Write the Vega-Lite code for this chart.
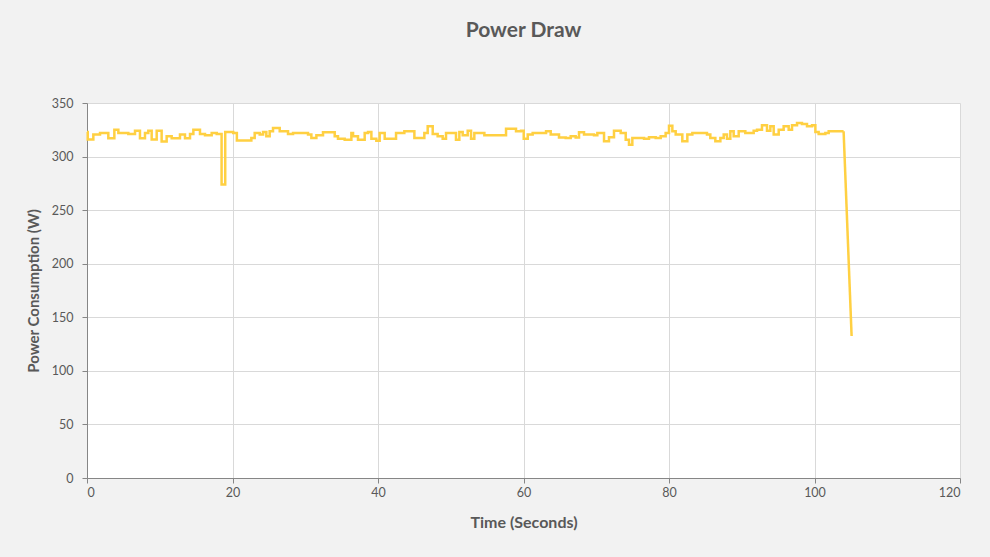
{
  "$schema": "https://vega.github.io/schema/vega-lite/v6.json",
  "width": 873,
  "height": 375,
  "autosize": {"type": "none"},
  "padding": {"left": 87, "top": 103, "right": 30, "bottom": 79},
  "background": "#f2f2f2",
  "title": {
    "text": "Power Draw",
    "font": "Lato",
    "fontSize": 21,
    "fontWeight": "bold",
    "color": "#595959",
    "anchor": "middle",
    "frame": "group",
    "offset": 56
  },
  "config": {
    "view": {"fill": "#ffffff", "stroke": null},
    "axis": {
      "labelFont": "Lato",
      "labelFontSize": 12.5,
      "labelColor": "#595959",
      "titleFont": "Lato",
      "titleFontSize": 15,
      "titleFontWeight": "bold",
      "titleColor": "#595959",
      "gridColor": "#d9d9d9",
      "gridWidth": 1,
      "domainColor": "#868686",
      "tickColor": "#868686",
      "tickSize": 5
    }
  },
  "datasets": {
    "power": [
      {"seg": "step", "t": 0, "v": 323},
      {"seg": "step", "t": 0.1, "v": 316},
      {"seg": "step", "t": 0.87, "v": 320.5},
      {"seg": "step", "t": 1.79, "v": 322},
      {"seg": "step", "t": 2.93, "v": 317},
      {"seg": "step", "t": 3.76, "v": 325},
      {"seg": "step", "t": 4.31, "v": 322},
      {"seg": "step", "t": 5.68, "v": 321},
      {"seg": "step", "t": 6.6, "v": 324},
      {"seg": "step", "t": 7.28, "v": 317},
      {"seg": "step", "t": 7.97, "v": 322},
      {"seg": "step", "t": 8.43, "v": 324},
      {"seg": "step", "t": 8.89, "v": 316},
      {"seg": "step", "t": 9.58, "v": 324},
      {"seg": "step", "t": 10.26, "v": 314},
      {"seg": "step", "t": 10.95, "v": 319},
      {"seg": "step", "t": 11.64, "v": 317},
      {"seg": "step", "t": 12.78, "v": 320.5},
      {"seg": "step", "t": 13.47, "v": 317},
      {"seg": "step", "t": 14.16, "v": 321},
      {"seg": "step", "t": 14.62, "v": 325},
      {"seg": "step", "t": 15.53, "v": 321},
      {"seg": "step", "t": 16.22, "v": 320},
      {"seg": "step", "t": 17.14, "v": 322},
      {"seg": "step", "t": 17.83, "v": 321},
      {"seg": "step", "t": 18.5, "v": 274},
      {"seg": "step", "t": 19.0, "v": 323},
      {"seg": "step", "t": 20.1, "v": 322},
      {"seg": "step", "t": 20.6, "v": 315},
      {"seg": "step", "t": 22.59, "v": 317.3},
      {"seg": "step", "t": 23.05, "v": 322},
      {"seg": "step", "t": 23.74, "v": 320.5},
      {"seg": "step", "t": 24.2, "v": 323},
      {"seg": "step", "t": 24.65, "v": 319},
      {"seg": "step", "t": 25.11, "v": 323.6},
      {"seg": "step", "t": 25.57, "v": 326.7},
      {"seg": "step", "t": 26.49, "v": 323.6},
      {"seg": "step", "t": 27.63, "v": 321},
      {"seg": "step", "t": 28.32, "v": 322},
      {"seg": "step", "t": 30.38, "v": 320.5},
      {"seg": "step", "t": 30.84, "v": 317.3},
      {"seg": "step", "t": 31.53, "v": 320},
      {"seg": "step", "t": 32.44, "v": 322.6},
      {"seg": "step", "t": 34.05, "v": 319},
      {"seg": "step", "t": 34.5, "v": 316.7},
      {"seg": "step", "t": 35.42, "v": 315.8},
      {"seg": "step", "t": 36.34, "v": 322},
      {"seg": "step", "t": 36.57, "v": 319},
      {"seg": "step", "t": 37.25, "v": 315.8},
      {"seg": "step", "t": 38.17, "v": 322},
      {"seg": "step", "t": 38.63, "v": 323},
      {"seg": "step", "t": 39.09, "v": 316.7},
      {"seg": "step", "t": 39.77, "v": 314.8},
      {"seg": "step", "t": 40.23, "v": 322},
      {"seg": "step", "t": 40.92, "v": 316.7},
      {"seg": "step", "t": 42.48, "v": 322},
      {"seg": "step", "t": 43.62, "v": 323.6},
      {"seg": "step", "t": 45.0, "v": 317.3},
      {"seg": "step", "t": 46.37, "v": 322},
      {"seg": "step", "t": 46.83, "v": 328.2},
      {"seg": "step", "t": 47.52, "v": 321},
      {"seg": "step", "t": 48.2, "v": 319},
      {"seg": "step", "t": 48.89, "v": 316.7},
      {"seg": "step", "t": 49.35, "v": 322},
      {"seg": "step", "t": 50.72, "v": 315.8},
      {"seg": "step", "t": 51.18, "v": 323},
      {"seg": "step", "t": 51.64, "v": 320},
      {"seg": "step", "t": 52.33, "v": 324.2},
      {"seg": "step", "t": 52.79, "v": 316.7},
      {"seg": "step", "t": 53.24, "v": 322},
      {"seg": "step", "t": 54.62, "v": 320},
      {"seg": "step", "t": 57.6, "v": 326},
      {"seg": "step", "t": 58.97, "v": 323.6},
      {"seg": "step", "t": 59.66, "v": 324},
      {"seg": "step", "t": 60.03, "v": 316.7},
      {"seg": "step", "t": 60.58, "v": 320.5},
      {"seg": "step", "t": 61.26, "v": 322},
      {"seg": "step", "t": 63.1, "v": 323.6},
      {"seg": "step", "t": 63.74, "v": 320.5},
      {"seg": "step", "t": 64.88, "v": 317.9},
      {"seg": "step", "t": 65.8, "v": 317.3},
      {"seg": "step", "t": 66.49, "v": 319},
      {"seg": "step", "t": 67.17, "v": 317.9},
      {"seg": "step", "t": 67.63, "v": 322.6},
      {"seg": "step", "t": 68.32, "v": 320.5},
      {"seg": "step", "t": 69.69, "v": 320},
      {"seg": "step", "t": 70.15, "v": 322},
      {"seg": "step", "t": 71.07, "v": 314.3},
      {"seg": "step", "t": 71.75, "v": 318},
      {"seg": "step", "t": 72.44, "v": 324.2},
      {"seg": "step", "t": 73.36, "v": 322},
      {"seg": "step", "t": 74.05, "v": 315.8},
      {"seg": "step", "t": 74.5, "v": 311},
      {"seg": "step", "t": 74.96, "v": 317.3},
      {"seg": "step", "t": 76.57, "v": 316.7},
      {"seg": "step", "t": 77.25, "v": 318},
      {"seg": "step", "t": 78.17, "v": 317.3},
      {"seg": "step", "t": 78.86, "v": 319},
      {"seg": "step", "t": 79.54, "v": 322},
      {"seg": "step", "t": 80.0, "v": 328.8},
      {"seg": "step", "t": 80.46, "v": 323.6},
      {"seg": "step", "t": 80.92, "v": 320.5},
      {"seg": "step", "t": 81.83, "v": 314.3},
      {"seg": "step", "t": 82.52, "v": 320.5},
      {"seg": "step", "t": 83.21, "v": 322},
      {"seg": "step", "t": 85.22, "v": 320.5},
      {"seg": "step", "t": 85.68, "v": 317.3},
      {"seg": "step", "t": 86.37, "v": 314.3},
      {"seg": "step", "t": 87.06, "v": 317.3},
      {"seg": "step", "t": 87.52, "v": 320.5},
      {"seg": "step", "t": 87.97, "v": 316.7},
      {"seg": "step", "t": 88.43, "v": 323.6},
      {"seg": "step", "t": 88.89, "v": 319},
      {"seg": "step", "t": 89.58, "v": 323.6},
      {"seg": "step", "t": 90.49, "v": 322},
      {"seg": "step", "t": 91.64, "v": 324.2},
      {"seg": "step", "t": 92.1, "v": 325.1},
      {"seg": "step", "t": 92.78, "v": 329.2},
      {"seg": "step", "t": 93.47, "v": 324.2},
      {"seg": "step", "t": 93.93, "v": 328.2},
      {"seg": "step", "t": 94.39, "v": 320.5},
      {"seg": "step", "t": 95.08, "v": 325.1},
      {"seg": "step", "t": 95.76, "v": 328.2},
      {"seg": "step", "t": 96.45, "v": 325.1},
      {"seg": "step", "t": 96.91, "v": 329.2},
      {"seg": "step", "t": 97.6, "v": 331.3},
      {"seg": "step", "t": 98.28, "v": 330.4},
      {"seg": "step", "t": 98.97, "v": 328.2},
      {"seg": "step", "t": 99.66, "v": 329.2},
      {"seg": "step", "t": 100.12, "v": 323},
      {"seg": "step", "t": 100.57, "v": 321},
      {"seg": "step", "t": 101.49, "v": 322},
      {"seg": "step", "t": 101.95, "v": 323.6},
      {"seg": "step", "t": 104.0, "v": 323.6},
      {"seg": "drop", "t": 104.0, "v": 323.6},
      {"seg": "drop", "t": 105.1, "v": 132.5}
    ]
  },
  "data": {"name": "power"},
  "encoding": {
    "x": {
      "field": "t",
      "type": "quantitative",
      "scale": {"domain": [0, 120], "nice": false},
      "axis": {
        "title": "Time (Seconds)",
        "values": [0, 20, 40, 60, 80, 100, 120],
        "grid": true,
        "labelPadding": 3,
        "titlePadding": 16,
        "titleFontSize": 16
      }
    },
    "y": {
      "field": "v",
      "type": "quantitative",
      "scale": {"domain": [0, 350], "nice": false},
      "axis": {
        "title": "Power Consumption (W)",
        "values": [0, 50, 100, 150, 200, 250, 300, 350],
        "grid": true,
        "labelPadding": 9,
        "titlePadding": 10
      }
    }
  },
  "layer": [
    {
      "transform": [{"filter": "datum.seg === 'step'"}],
      "mark": {"type": "line", "interpolate": "step-after", "color": "#FFD042", "strokeWidth": 2.5}
    },
    {
      "transform": [{"filter": "datum.seg === 'drop'"}],
      "mark": {"type": "line", "interpolate": "linear", "color": "#FFD042", "strokeWidth": 2.5}
    }
  ]
}
